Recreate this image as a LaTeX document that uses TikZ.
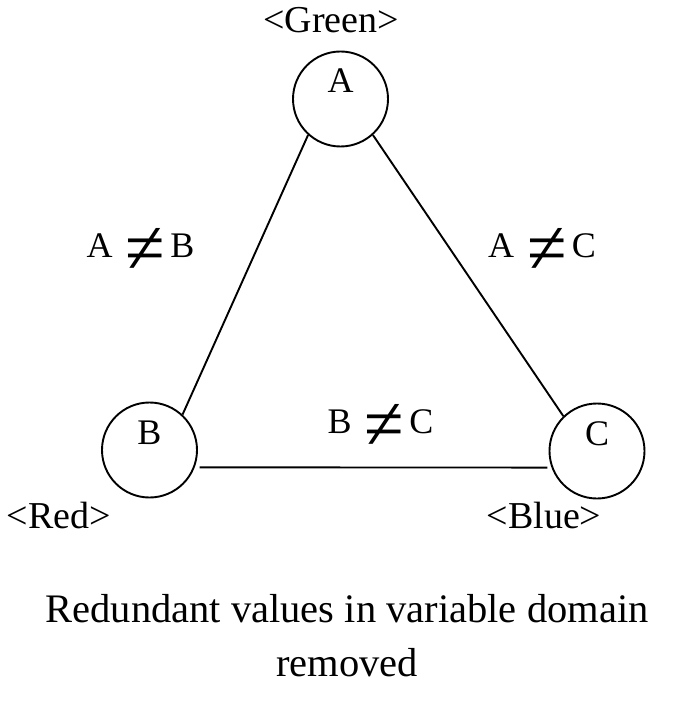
\documentclass[tikz,border=0pt]{standalone}
\usepackage{fontspec}
\setmainfont{Liberation Serif}
\newcommand{\bigneq}{\raisebox{-16pt}{\scalebox{2}[2.1]{≠}}}
\begin{document}
\begin{tikzpicture}[x=1pt,y=-1pt,
  var/.style={circle,draw,line width=1.9pt,minimum size=95pt,inner sep=0pt,text height=25pt,text depth=37pt,font=\fontsize{36}{36}\selectfont},
  lab/.style={anchor=base,inner sep=0pt,font=\fontsize{38}{38}\selectfont},
  rel/.style={anchor=base,inner sep=0pt,font=\fontsize{36}{36}\selectfont},
  captext/.style={anchor=base,inner sep=0pt,font=\fontsize{40.5}{40.5}\selectfont},
  edge/.style={line width=1.9pt}]
\useasboundingbox (0,0) rectangle (690,703);
\node[var] (A) at (340.5,99) {A};
\node[var] (B) at (149.5,450) {B};
\node[var] (C) at (597,451) {C};
\node[lab] (g) at (331,33) {<Green>};
\node[lab] (r) at (59,528) {<Red>};
\node[lab] (bl) at (544,528) {<Blue>};
\node[rel] (ab) at (140.5,257) {A\hspace{13pt}\bigneq\hspace{5pt}B};
\node[rel] (ac) at (542,257) {A\hspace{13pt}\bigneq\hspace{5pt}C};
\node[rel] (bc) at (380.5,433) {B\hspace{13pt}\bigneq\hspace{5pt}C};
\node[captext] (t1) at (347,622) {Redundant values in variable domain};
\node[captext] (t2) at (347,676) {removed};
\draw[edge] (A.228.5) -- (B.47);
\draw[edge] (A.-48.5) -- (C.134);
\draw[edge,shorten <=5pt,shorten >=4pt] (B.-21) -- (C.200);
\end{tikzpicture}
\end{document}
